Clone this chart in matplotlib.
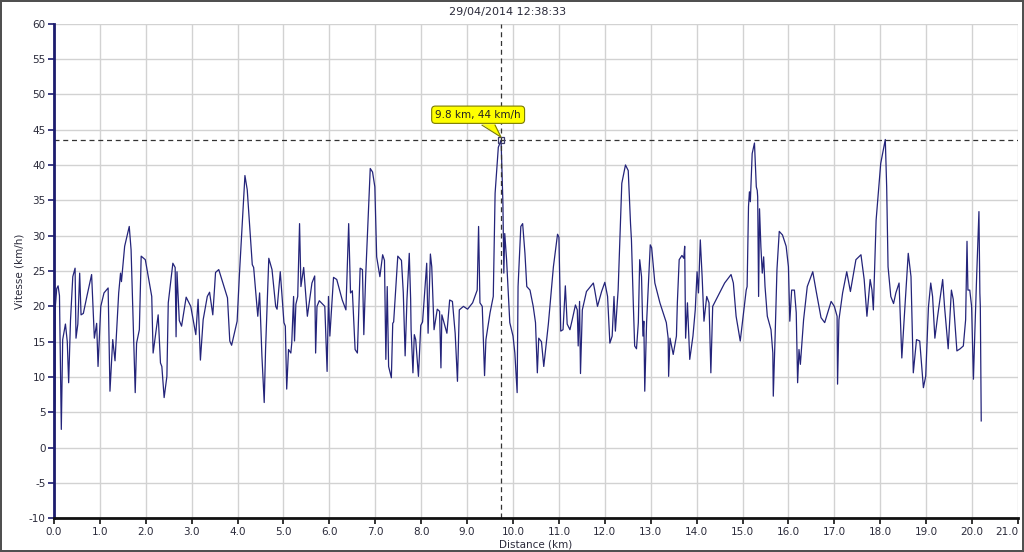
import matplotlib
matplotlib.use('Agg')
import matplotlib.pyplot as plt
from matplotlib.patches import Polygon
from matplotlib.transforms import ScaledTranslation

# distance (km) and speed (km/h)
dist = [0.0, 0.01, 0.02, 0.03, 0.06, 0.09, 0.12, 0.16, 0.19, 0.25, 0.29, 0.32, 0.36, 0.41, 0.46, 0.48, 0.52,
        0.56, 0.59, 0.64, 0.72, 0.82, 0.88, 0.93, 0.96, 1.02, 1.09, 1.18, 1.22, 1.28, 1.33, 1.41, 1.45, 1.47,
        1.54, 1.64, 1.68, 1.77, 1.80, 1.86, 1.90, 1.99, 2.13, 2.16, 2.27, 2.32, 2.35, 2.40, 2.46, 2.49, 2.59,
        2.64, 2.66, 2.68, 2.73, 2.78, 2.88, 2.98, 3.09, 3.14, 3.19, 3.25, 3.34, 3.39, 3.46, 3.52, 3.59,
        3.67, 3.78, 3.83, 3.87, 3.99, 4.04, 4.16, 4.21, 4.32, 4.35, 4.44, 4.48, 4.53, 4.58, 4.61, 4.68, 4.75,
        4.83, 4.86, 4.93, 4.97, 5.01, 5.04, 5.07, 5.11, 5.16, 5.18, 5.22, 5.24, 5.27, 5.31, 5.35, 5.38, 5.44,
        5.52, 5.62, 5.68, 5.70, 5.73, 5.78, 5.90, 5.95, 5.98, 6.01, 6.09, 6.16, 6.28, 6.36, 6.42, 6.46, 6.50,
        6.56, 6.61, 6.67, 6.72, 6.75, 6.79, 6.89, 6.94, 6.99, 7.03, 7.10, 7.16,
        7.20, 7.23, 7.26, 7.29, 7.35, 7.38, 7.40, 7.49, 7.57, 7.61, 7.65, 7.69, 7.74, 7.77, 7.78, 7.82, 7.85,
        7.88, 7.94, 7.99, 8.03, 8.12, 8.15, 8.20, 8.23, 8.28, 8.35, 8.40, 8.43, 8.45, 8.50, 8.56, 8.62, 8.68,
        8.74, 8.79, 8.83, 8.92, 9.01, 9.12, 9.22, 9.25, 9.28, 9.33, 9.38, 9.41, 9.50, 9.57, 9.61, 9.68, 9.74,
        9.78, 9.80, 9.82, 9.86, 9.93, 10.00, 10.04, 10.09, 10.11, 10.17, 10.21, 10.26, 10.30, 10.37, 10.44,
        10.49, 10.53, 10.56, 10.62, 10.67, 10.77,
        10.88, 10.97, 11.00, 11.04, 11.09, 11.14, 11.18, 11.24, 11.29, 11.36, 11.40, 11.42, 11.45, 11.47,
        11.51, 11.60, 11.75, 11.78, 11.84, 11.93, 12.00, 12.06, 12.11, 12.16, 12.20, 12.23, 12.29, 12.37,
        12.45, 12.51, 12.56, 12.58, 12.62, 12.65, 12.69, 12.73, 12.76, 12.80, 12.83, 12.85, 12.87, 12.91,
        12.99, 13.02, 13.09, 13.20, 13.34, 13.38, 13.39, 13.42, 13.49, 13.56, 13.58, 13.62, 13.68, 13.72,
        13.74, 13.76, 13.80, 13.85, 13.92, 13.97, 14.01, 14.04, 14.08, 14.12, 14.16, 14.22, 14.27, 14.31,
        14.35, 14.46, 14.61, 14.75,
        14.80, 14.86, 14.95, 15.03, 15.08, 15.10, 15.13, 15.15, 15.17, 15.21, 15.26, 15.30, 15.32, 15.33,
        15.35, 15.37, 15.40, 15.43, 15.46, 15.49, 15.54, 15.62, 15.66, 15.67, 15.71, 15.75, 15.80, 15.87,
        15.95, 16.00, 16.03, 16.07, 16.13, 16.17, 16.20, 16.23, 16.26, 16.33, 16.41, 16.53, 16.60, 16.71,
        16.79, 16.93, 17.00, 17.06, 17.07, 17.10, 17.18, 17.27, 17.35, 17.47, 17.58, 17.65, 17.71, 17.78,
        17.82, 17.85, 17.91, 18.01, 18.11, 18.14, 18.17, 18.23, 18.29,
        18.34, 18.41, 18.47, 18.52, 18.61, 18.67, 18.72, 18.79, 18.86, 18.90, 18.94, 18.99, 19.05, 19.10,
        19.14, 19.19, 19.25, 19.36, 19.40, 19.48, 19.55, 19.59, 19.67, 19.74, 19.81, 19.86, 19.89, 19.91,
        19.95, 19.99, 20.03, 20.06, 20.10, 20.15, 20.17, 20.18, 20.20]
speed = [7.5, 4.5, 6.5, 20.0, 22.5, 22.9, 21.5, 2.6, 15.3, 17.5, 15.0, 9.2, 18.0, 24.2, 25.4, 15.5, 17.5,
         24.7, 18.8, 19.0, 21.5, 24.5, 15.5, 17.6, 11.5, 20.0, 21.9, 22.6, 8.0, 15.3, 12.3, 21.9, 24.7, 23.5,
         28.5, 31.3, 28.0, 7.8, 14.8, 16.7, 27.1, 26.6, 21.4, 13.4, 18.8, 12.0, 11.5, 7.1, 10.1, 20.5, 26.1,
         25.5, 15.7, 24.9, 18.0, 17.2, 21.3, 20.0, 16.0, 21.0, 12.4, 18.1, 21.4, 22.0, 18.8, 24.8, 25.2,
         23.5, 21.2, 15.1, 14.5, 17.9, 24.5, 38.5, 36.5, 25.9, 25.5, 18.6, 21.9, 13.0, 6.4, 14.0, 26.8, 25.2,
         20.0, 19.6, 24.9, 21.4, 17.7, 17.2, 8.3, 13.9, 13.4, 14.8, 21.4, 15.1, 20.3, 21.4, 31.7, 22.8, 25.5,
         18.6, 23.3, 24.3, 13.4, 20.0, 20.8, 20.0, 10.8, 21.4, 15.8, 24.1, 23.8, 20.9, 19.5, 31.7, 21.9, 22.2,
         13.9, 13.4, 25.4, 25.2, 16.0, 24.2, 39.5, 39.0, 36.9, 27.0, 24.2, 27.3,
         26.5, 12.5, 22.8, 11.5, 9.9, 17.6, 17.8, 27.1, 26.5, 21.9, 13.0, 21.0, 27.5, 21.0, 16.7, 10.6, 16.0,
         15.3, 10.1, 17.3, 17.8, 26.1, 16.2, 27.4, 25.6, 16.7, 19.6, 19.3, 11.3, 18.8, 17.6, 16.2, 20.9, 20.7,
         16.2, 9.4, 19.5, 20.0, 19.6, 20.5, 22.3, 31.3, 20.5, 20.0, 10.2, 15.3, 19.1, 21.4, 36.0, 42.5, 43.5,
         34.6, 24.7, 30.3, 26.6, 17.7, 15.8, 13.4, 7.8, 22.8, 31.3, 31.7, 27.5, 22.8, 22.3, 20.0,
         17.7, 10.6, 15.5, 15.0, 11.5, 17.5,
         25.6, 30.2, 29.8, 16.5, 16.7, 22.9, 17.5, 16.7, 18.1, 20.2, 19.5, 14.4, 20.7, 10.5,
         19.5, 22.1, 23.3, 22.3, 20.0, 22.1, 23.4, 21.4, 14.8, 15.8, 21.4, 16.5, 22.3, 37.4,
         40.0, 39.2, 31.7, 29.4, 20.5, 14.4, 14.0, 17.7, 26.6, 24.2, 15.8, 17.9, 8.0, 17.7,
         28.7, 28.3, 23.3, 20.5, 17.7, 15.5, 10.1, 15.5, 13.2, 15.8, 20.5, 26.6, 27.2, 26.8,
         28.5, 15.5, 20.5, 12.5, 15.8, 19.5, 24.9, 21.9, 29.4, 24.2, 17.9, 21.4, 20.5, 10.6,
         20.0, 21.4, 23.3, 24.5,
         23.3, 18.6, 15.1, 19.5, 22.3, 22.8, 34.1, 36.2, 34.8, 41.6, 43.1, 36.9, 36.4, 35.5,
         21.4, 33.8, 28.4, 24.7, 27.0, 22.8, 18.6, 16.7, 13.4, 7.3, 15.8, 25.2, 30.6, 30.1,
         28.5, 25.6, 17.9, 22.3, 22.3, 19.1, 9.2, 13.9, 11.8, 18.1, 22.8, 24.9, 22.3, 18.4,
         17.7, 20.7, 20.0, 18.6, 9.0, 18.1, 21.9, 24.9, 22.1, 26.6, 27.3, 23.8, 18.6, 23.8,
         22.3, 19.5, 32.2, 40.2, 43.6, 36.9, 25.6, 21.4, 20.4,
         21.9, 23.3, 12.7, 18.1, 27.5, 24.2, 10.6, 15.3, 15.1, 11.8, 8.5, 10.1, 19.9, 23.3,
         21.4, 15.5, 18.6, 23.8, 20.0, 14.0, 22.3, 21.0, 13.7, 14.0, 14.4, 18.1, 29.2, 22.3,
         22.3, 20.0, 9.7, 16.2, 24.2, 33.4, 21.9, 20.0, 3.8]

x_ticks = [i * 1.0 for i in range(22)]
y_ticks = list(range(-10, 61, 5))
cursor_x = 9.74
cursor_y = 43.5
tooltip = '9.8 km, 44 km/h'
title = '29/04/2014 12:38:33'

plt.rcParams['font.family'] = 'DejaVu Sans'
plt.rcParams['axes.unicode_minus'] = False
fig = plt.figure(figsize=(10.24, 5.52), dpi=100)
fig.patch.set_edgecolor('#505050')
fig.patch.set_linewidth(1.6)
ax = fig.add_axes([0.0527, 0.0607, 0.9414, 0.8967])

ax.plot(dist, speed, color='#24247a', linewidth=0.9)

ax.set_xlim(0, 21)
ax.set_ylim(-10, 60)
ax.set_xticks(x_ticks)
# the last label is drawn separately so it stays inside the figure
labels = ['%.1f' % t for t in x_ticks]
ax.set_xticklabels(labels[:-1] + [''])
ax.set_yticks(y_ticks)
ax.grid(True, color='#d2d2d2', linewidth=1.0)
ax.set_axisbelow(True)

for s in ['top', 'right']:
    ax.spines[s].set_visible(False)
ax.spines['left'].set_color('#1c1c6e')
ax.spines['left'].set_linewidth(2)
ax.spines['bottom'].set_color('#111111')
ax.spines['bottom'].set_linewidth(2)
ax.tick_params(axis='y', length=4, width=1.2, color='#1c1c6e', labelsize=7.5, labelcolor='#2a2a3a', pad=2)
ax.tick_params(axis='x', length=4, width=1.2, color='#111111', labelsize=7.5, labelcolor='#2a2a3a', pad=2)
ax.annotate(labels[-1], xy=(x_ticks[-1], -10), xycoords='data', xytext=(0, -6),
            textcoords='offset points', ha='right', va='top', fontsize=7.5, color='#2a2a3a',
            annotation_clip=False)

ax.set_xlabel('Distance (km)', fontsize=7.5, color='#2a2a3a', labelpad=2)
ax.set_ylabel('Vitesse (km/h)', fontsize=7.5, color='#2a2a3a', labelpad=3)
fig.text(0.496, 0.979, title, ha='center', va='center', fontsize=8, color='#2a2a3a')

# crosshair and tooltip
ax.axvline(cursor_x, color='#333333', linewidth=0.9, dashes=(4, 3))
ax.axhline(cursor_y, color='#333333', linewidth=0.9, dashes=(4, 3))
ax.plot([cursor_x], [cursor_y], marker='s', markersize=5, markerfacecolor='none',
        markeredgecolor='#3a3a6a', markeredgewidth=0.9)
ax.annotate(tooltip, xy=(cursor_x, cursor_y), xytext=(9.24, 47.1),
            ha='center', va='center', fontsize=7.5, color='#222222', zorder=5,
            bbox=dict(boxstyle='round,pad=0.35', fc='#ffff00', ec='#7a7a00', lw=0.8))

# callout tail, in inches relative to the marker
tail = fig.dpi_scale_trans + ScaledTranslation(cursor_x, cursor_y, ax.transData)
tail_pts = [(-0.19, 0.16), (-0.06, 0.16), (0.0, 0.03)]
ax.add_patch(Polygon(tail_pts, closed=True, transform=tail, fc='#ffff00', ec='none', zorder=6))
ax.plot([-0.19, 0.0, -0.06], [0.15, 0.03, 0.15], transform=tail, color='#7a7a00', lw=0.8, zorder=6)

plt.savefig('out.png', dpi=100, edgecolor=fig.get_edgecolor())
